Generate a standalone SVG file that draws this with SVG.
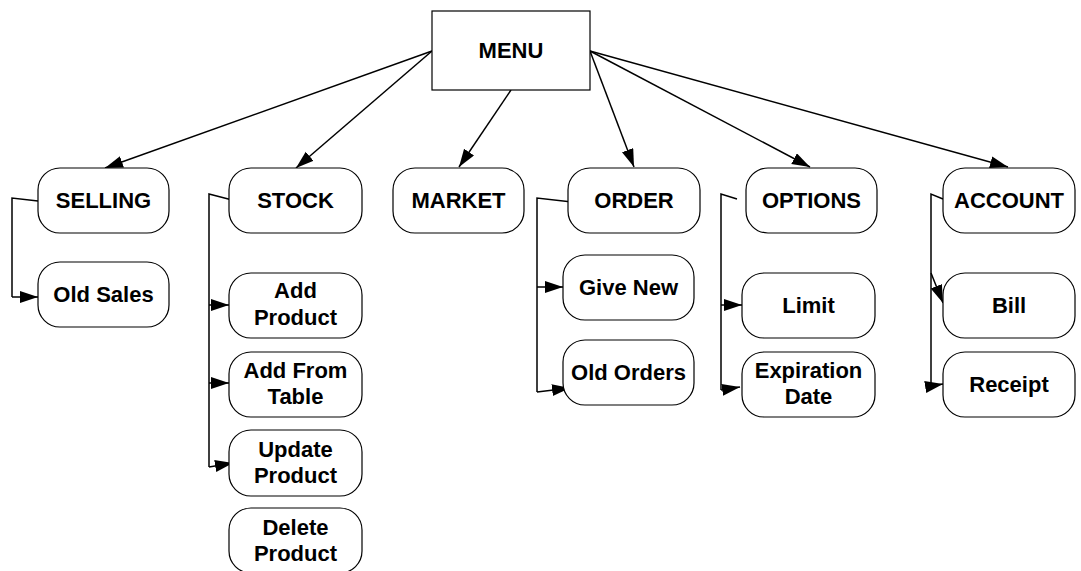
<svg xmlns="http://www.w3.org/2000/svg" width="1081" height="571" viewBox="0 0 1081 571">
<style>
.n{fill:#fff;stroke:#000;stroke-width:1.2}
.t{font-family:"Liberation Sans",Arial,sans-serif;font-weight:bold;font-size:22px;fill:#000;text-anchor:middle}
.c{fill:none;stroke:#000;stroke-width:1.5}
</style>
<defs>
<marker id="ah" markerUnits="userSpaceOnUse" markerWidth="20" markerHeight="14" refX="18" refY="6" orient="auto">
<path d="M0,0 L18,6 L0,12 Z" fill="#000"/>
</marker>
</defs>
<rect width="1081" height="571" fill="#fff"/>
<g id="connectors">
<path class="c" marker-end="url(#ah)" d="M432,51 L105,168"/>
<path class="c" marker-end="url(#ah)" d="M432,51 L296,168"/>
<path class="c" marker-end="url(#ah)" d="M511,90 L459,167"/>
<path class="c" marker-end="url(#ah)" d="M590,51 L634,167"/>
<path class="c" marker-end="url(#ah)" d="M590,51 L810,167"/>
<path class="c" marker-end="url(#ah)" d="M590,51 L1008,167"/>
<path class="c" d="M38,201 L12,198 L12,297"/>
<path class="c" marker-end="url(#ah)" d="M12,297 L38,297"/>
<path class="c" d="M236,201 L209,194 L209,467"/>
<path class="c" marker-end="url(#ah)" d="M209,305 L229,305"/>
<path class="c" marker-end="url(#ah)" d="M209,383 L229,383"/>
<path class="c" marker-end="url(#ah)" d="M209,467 L233,463"/>
<path class="c" d="M572,202 L537,198 L537,392"/>
<path class="c" marker-end="url(#ah)" d="M537,287 L563,287"/>
<path class="c" marker-end="url(#ah)" d="M537,392 L570,388"/>
<path class="c" d="M737,199 L721,194 L721,390"/>
<path class="c" marker-end="url(#ah)" d="M721,305 L742,305"/>
<path class="c" marker-end="url(#ah)" d="M721,390 L740,387"/>
<path class="c" d="M943,199 L931,194 L931,386"/>
<path class="c" marker-end="url(#ah)" d="M931,273 L943,303"/>
<path class="c" marker-end="url(#ah)" d="M931,386 L943,384"/>
</g>
<g id="menu"><rect x="432" y="11" width="158" height="79" fill="#fff" stroke="#000" stroke-width="1.2"/><text class="t" x="511" y="58">MENU</text></g>
<g id="selling"><rect class="n" x="38" y="168" width="131" height="65" rx="22"/><text class="t" x="103.5" y="208">SELLING</text></g>
<g id="oldsales"><rect class="n" x="38" y="262" width="131" height="65" rx="22"/><text class="t" x="103.5" y="302">Old Sales</text></g>
<g id="stock"><rect class="n" x="229" y="168" width="133" height="65" rx="22"/><text class="t" x="295.5" y="208">STOCK</text></g>
<g id="addproduct"><rect class="n" x="229" y="273" width="133" height="65" rx="22"/><text class="t" x="295.5" y="298">Add</text><text class="t" x="295.5" y="325">Product</text></g>
<g id="addfromtable"><rect class="n" x="229" y="352" width="133" height="65" rx="22"/><text class="t" x="295.5" y="378">Add From</text><text class="t" x="295.5" y="404">Table</text></g>
<g id="updateproduct"><rect class="n" x="229" y="430" width="133" height="66" rx="22"/><text class="t" x="295.5" y="457">Update</text><text class="t" x="295.5" y="483">Product</text></g>
<g id="deleteproduct"><rect class="n" x="229" y="508" width="133" height="65" rx="22"/><text class="t" x="295.5" y="535">Delete</text><text class="t" x="295.5" y="561">Product</text></g>
<g id="market"><rect class="n" x="393" y="168" width="131" height="65" rx="22"/><text class="t" x="458.5" y="208">MARKET</text></g>
<g id="order"><rect class="n" x="568" y="168" width="132" height="65" rx="22"/><text class="t" x="634" y="208">ORDER</text></g>
<g id="givenew"><rect class="n" x="563" y="255" width="131" height="65" rx="22"/><text class="t" x="628.5" y="295">Give New</text></g>
<g id="oldorders"><rect class="n" x="563" y="340" width="131" height="65" rx="22"/><text class="t" x="628.5" y="380">Old Orders</text></g>
<g id="options"><rect class="n" x="746" y="168" width="131" height="65" rx="22"/><text class="t" x="811.5" y="208">OPTIONS</text></g>
<g id="limit"><rect class="n" x="742" y="273" width="133" height="65" rx="22"/><text class="t" x="808.5" y="313">Limit</text></g>
<g id="expiration"><rect class="n" x="742" y="352" width="133" height="65" rx="22"/><text class="t" x="808.5" y="378">Expiration</text><text class="t" x="808.5" y="404">Date</text></g>
<g id="account"><rect class="n" x="943" y="168" width="132" height="65" rx="22"/><text class="t" x="1009" y="208">ACCOUNT</text></g>
<g id="bill"><rect class="n" x="943" y="273" width="132" height="65" rx="22"/><text class="t" x="1009" y="313">Bill</text></g>
<g id="receipt"><rect class="n" x="943" y="352" width="132" height="65" rx="22"/><text class="t" x="1009" y="392">Receipt</text></g>
</svg>
